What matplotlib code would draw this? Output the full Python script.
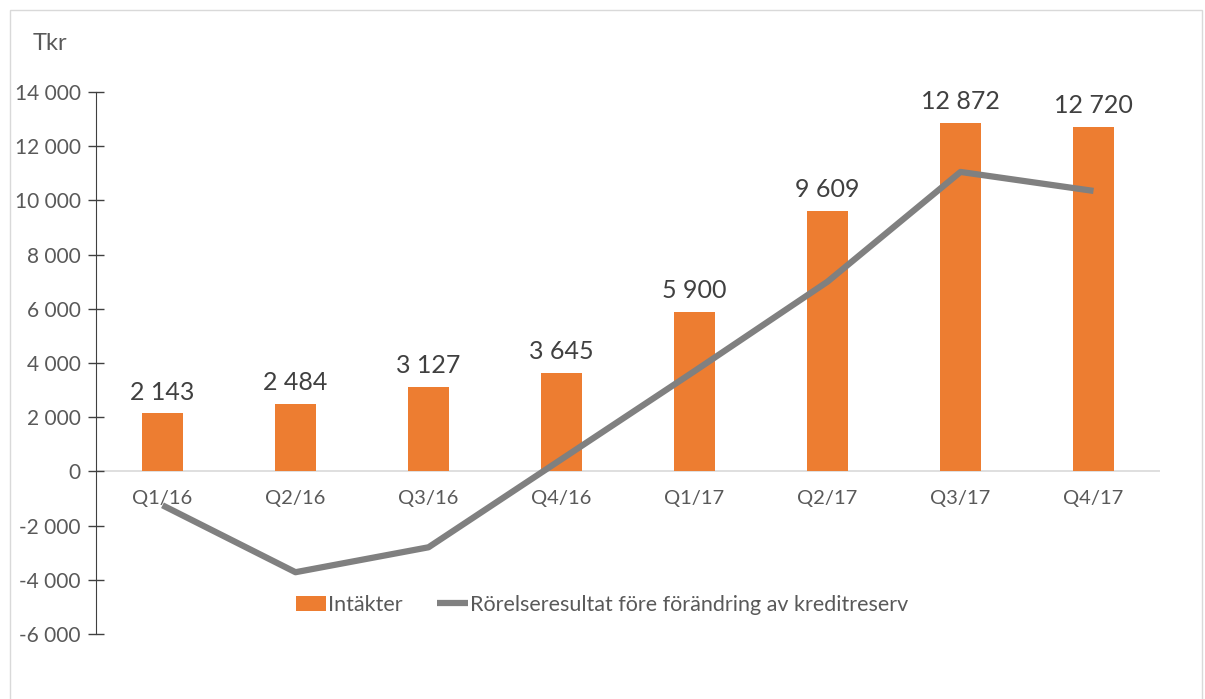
import numpy as np
import matplotlib.pyplot as plt
from matplotlib.patches import Rectangle

# data
quarters = ["Q1/16", "Q2/16", "Q3/16", "Q4/16", "Q1/17", "Q2/17", "Q3/17", "Q4/17"]
intakter = [2143, 2484, 3127, 3645, 5900, 9609, 12872, 12720]
rorelseresultat = [-1250, -3720, -2800, 450, 3700, 7000, 11050, 10350]

orange = "#ED7D31"
grey = "#808080"
txt = "#595959"

plt.rcParams['font.family'] = ['Lato', 'DejaVu Sans']

fig = plt.figure(figsize=(12.05, 6.99), dpi=100)
fig.patches.append(Rectangle((10 / 1205, -0.01), 1192 / 1205, 1 - 10 / 699 + 0.01,
                             transform=fig.transFigure, fill=False,
                             edgecolor="#D9D9D9", linewidth=1))
ax = fig.add_axes([96 / 1205, 1 - 634 / 699, (1160 - 96) / 1205, (634 - 92) / 699])

x = np.arange(len(quarters))
ax.bar(x, intakter, width=0.31, color=orange, label="Intäkter", zorder=2)
ax.plot(x, rorelseresultat, color=grey, linewidth=4.5, solid_capstyle="butt",
        label="Rörelseresultat före förändring av kreditreserv", zorder=3)

for xi, v in zip(x, intakter):
    ax.text(xi, v + 360, f"{v:,}".replace(",", " "), ha="center", va="bottom",
            fontsize=18, color="#404040")

for xi, q in zip(x, quarters):
    ax.text(xi, -700, q, ha="center", va="top", fontsize=14.5, color=txt)

ax.axhline(0, color="#D9D9D9", linewidth=1.2, zorder=1)

ax.set_xlim(-0.5, 7.5)
ax.set_ylim(-6000, 14000)
ax.set_yticks(np.arange(-6000, 14001, 2000))
ax.set_yticklabels([f"{v:,}".replace(",", " ") for v in range(-6000, 14001, 2000)])
ax.set_xticks([])
ax.tick_params(axis="y", direction="inout", length=12, width=1, colors="#404040",
               labelcolor=txt, labelsize=15, pad=5)
for s in ["top", "right", "bottom"]:
    ax.spines[s].set_visible(False)
ax.spines["left"].set_color("#404040")

fig.text(33 / 1205, 1 - 43 / 699, "Tkr", fontsize=17, color=txt, va="center")

handles, labels = ax.get_legend_handles_labels()
order = [1, 0]
ax.legend([handles[i] for i in order], [labels[i] for i in order],
          loc="center", bbox_to_anchor=(602 / 1205, 1 - 605 / 699),
          bbox_transform=fig.transFigure, ncol=2, frameon=False, fontsize=15.5,
          labelcolor=txt, handlelength=1.4, handletextpad=0.1, columnspacing=1.6)

fig.savefig("out.png", dpi=100)
